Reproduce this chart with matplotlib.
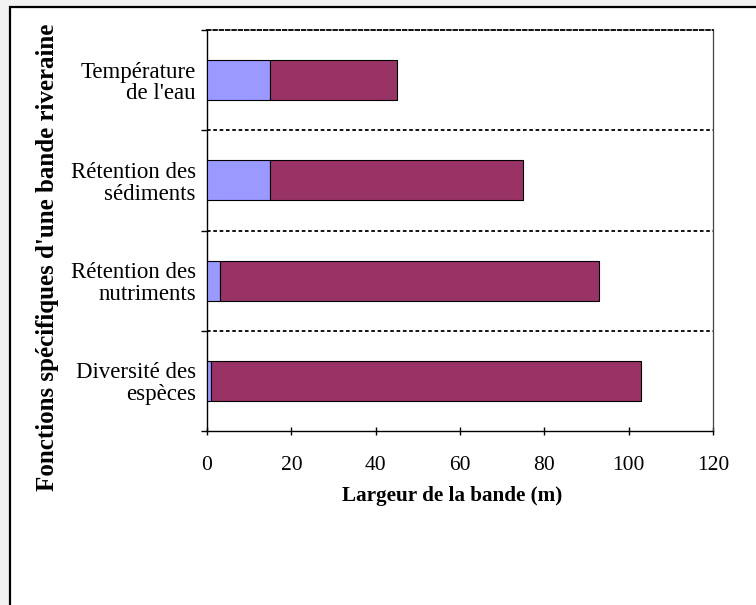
import matplotlib.pyplot as plt
from matplotlib.patches import Rectangle
import numpy as np

# Données (de bas en haut)
categories = ["Diversité des\nespèces", "Rétention des\nnutriments",
              "Rétention des\nsédiments", "Température\nde l'eau"]
largeur_min = [1, 3, 15, 15]          # segment bleu
largeur_totale = [103, 93, 75, 45]    # fin du segment pourpre
x_ticks = [0, 20, 40, 60, 80, 100, 120]

plt.rcParams['font.family'] = ['Liberation Serif', 'DejaVu Serif']

fig = plt.figure(figsize=(7.56, 6.05), dpi=100, facecolor='#f2f2f2')

# panneau blanc avec bordure noire (coupé à droite et en bas)
fig.patches.append(Rectangle((10 / 756, -0.1), 1.2, 1 - 7 / 605 + 0.1,
                             transform=fig.transFigure, facecolor='white',
                             edgecolor='black', linewidth=1.6, zorder=-5))

ax = fig.add_axes([207 / 756, 1 - 431 / 605, 506 / 756, 401 / 605])
ax.set_zorder(5)
ax.set_facecolor('white')

y = np.arange(len(categories))
reste = [t - m for t, m in zip(largeur_totale, largeur_min)]
ax.barh(y, largeur_min, height=0.4, color='#9999ff', edgecolor='black', linewidth=0.8, zorder=3)
ax.barh(y, reste, left=largeur_min, height=0.4, color='#993366', edgecolor='black', linewidth=0.8, zorder=3)

ax.set_xlim(0, 120)
ax.set_ylim(-0.5, len(categories) - 0.5)

# séparateurs pointillés entre catégories
for yb in np.arange(0.5, len(categories) - 1, 1.0):
    ax.axhline(yb, color='black', linewidth=1.3, linestyle=(0, (2, 1.5)), zorder=2)

ax.spines['top'].set_linestyle((0, (2, 1.5)))
ax.spines['top'].set_linewidth(1.3)
for s in ['left', 'bottom']:
    ax.spines[s].set_linewidth(1.0)
ax.spines['right'].set_linewidth(0.9)
ax.spines['right'].set_color('#444444')

ax.set_xticks(x_ticks)
ax.set_xticklabels([str(v) for v in x_ticks], fontsize=15.5)
ax.set_yticks(np.arange(-0.5, len(categories), 1.0))
ax.set_yticklabels([])
ax.set_yticks(y, minor=True)
ax.set_yticklabels(categories, minor=True, fontsize=16.5, ha='right', linespacing=1.05)
ax.tick_params(axis='y', which='minor', length=0, pad=8)
ax.tick_params(axis='y', which='major', direction='out', length=4, width=1)
ax.tick_params(axis='x', direction='inout', length=6, width=1, pad=15)

ax.set_xlabel('Largeur de la bande (m)', fontsize=15.2, fontweight='bold', labelpad=8)
ax.xaxis.label.set_x((452 - 207) / 506)
fig.text(48 / 756, 1 - 257 / 605, "Fonctions spécifiques d'une bande riveraine",
         rotation=90, ha='center', va='center', fontsize=18, fontweight='bold')

fig.savefig('out.png', dpi=100, facecolor=fig.get_facecolor())
